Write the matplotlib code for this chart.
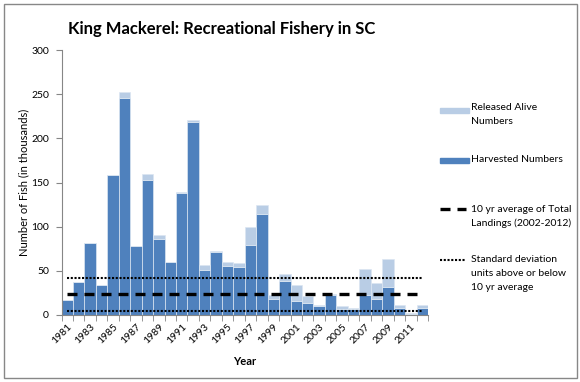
import matplotlib.pyplot as plt
from matplotlib.lines import Line2D
from matplotlib.patches import Rectangle
import numpy as np

plt.rcParams['font.family'] = ['Lato', 'DejaVu Sans']

# values (thousands of fish)
years = list(range(1981, 2013))
harvested = [17, 37, 81, 34, 158, 246, 78, 153, 86, 60, 138, 219, 51, 71, 56, 54,
             79, 114, 18, 38, 16, 14, 10, 23, 7, 7, 23, 18, 32, 8, 1, 8]
released = [0, 0, 0.5, 0, 0, 7, 0.5, 7, 5, 0, 1, 1.5, 6, 2, 4, 5,
            21, 10, 5, 8, 18, 7, 1, 0.5, 3, 1, 29, 18, 31, 3.5, 1, 3]
avg_10yr = 23.4
sd_upper = 41.6
sd_lower = 4.2

W, H = 580, 382
fig = plt.figure(figsize=(W / 100, H / 100), dpi=100)
ax = fig.add_axes([61.5 / W, 1 - 315 / H, (428 - 61.5) / W, (315 - 50) / H])

dark = '#4f81bd'
light = '#b9cde5'
ax.bar(years, harvested, width=1.0, color=dark, edgecolor='#dce6f2', linewidth=0.5)
ax.bar(years, released, width=1.0, bottom=harvested, color=light, edgecolor='#dce6f2', linewidth=0.5)

n = len(years)
ax.plot(years, np.full(n, avg_10yr), color='black', lw=2.4, dashes=(3, 2.1))
ax.plot(years, np.full(n, sd_upper), color='black', lw=1.5, dashes=(1, 0.8))
ax.plot(years, np.full(n, sd_lower), color='black', lw=1.5, dashes=(1, 0.8))

ax.set_xlim(1980.5, 2012.5)
ax.set_ylim(0, 300)
ax.set_yticks(range(0, 301, 50))
ax.set_xticks(years[::2])
ax.set_xticklabels([str(y) for y in years[::2]], rotation=45, ha='right',
                   rotation_mode='anchor', fontsize=7.5)
ax.set_xticks(np.arange(1980.5, 2013, 1), minor=True)
ax.tick_params(axis='x', which='major', length=0, pad=5)
ax.tick_params(axis='x', which='minor', length=4, color='#868686', direction='out')
ax.tick_params(axis='y', length=4, color='#868686', labelsize=7.5, pad=5)
for s in ['top', 'right']:
    ax.spines[s].set_visible(False)
for s in ['left', 'bottom']:
    ax.spines[s].set_color('#868686')
    ax.spines[s].set_linewidth(0.8)

ax.set_xlabel('Year', fontsize=8, fontweight='bold', labelpad=8)
ax.set_ylabel('Number of Fish (in thousands)', fontsize=8, labelpad=1)
fig.text(222 / W, 1 - 29 / H, 'King Mackerel: Recreational Fishery in SC',
         ha='center', va='center', fontsize=12, fontweight='bold')


# legend drawn by hand so markers line up with the first text line
def fx(px):
    return px / W


def fy(py):
    return 1 - py / H


fig.add_artist(Rectangle((fx(440), fy(112.5)), 29 / W, 5 / H, color=light,
                         transform=fig.transFigure))
fig.add_artist(Rectangle((fx(440), fy(162.5)), 29 / W, 5 / H, color=dark,
                         transform=fig.transFigure))
fig.add_artist(Line2D([fx(440), fx(466)], [fy(209), fy(209)], color='black', lw=2.4,
                      dashes=(3, 2.1), transform=fig.transFigure))
fig.add_artist(Line2D([fx(440), fx(466)], [fy(260), fy(260)], color='black', lw=1.5,
                      dashes=(1, 0.8), transform=fig.transFigure))
entries = [(108, ['Released Alive', 'Numbers']),
           (160, ['Harvested Numbers']),
           (209, ['10 yr average of Total', 'Landings (2002-2012)']),
           (260, ['Standard deviation', 'units above or below', '10 yr average'])]
for y0, lines in entries:
    for k, t in enumerate(lines):
        fig.text(fx(471), fy(y0 + k * 14), t, fontsize=7.5, va='center', ha='left')

# outer chart border
fig.add_artist(Rectangle((fx(3.5), fy(378)), 573 / W, 374.5 / H, fill=False,
                         edgecolor='#878787', lw=1, transform=fig.transFigure))

fig.savefig('out.png', dpi=100)
